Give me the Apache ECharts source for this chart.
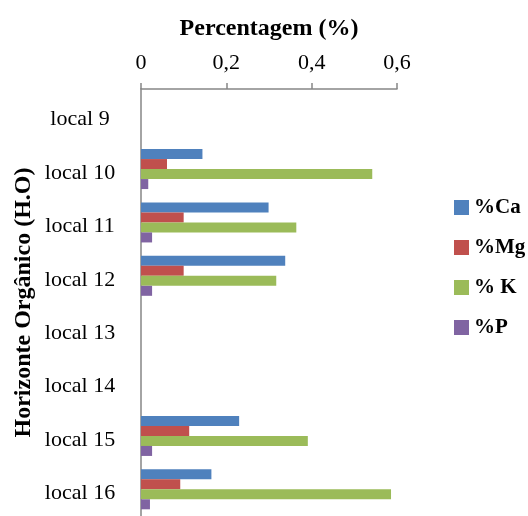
<!DOCTYPE html>
<html><head><meta charset="utf-8">
<script src="https://cdn.jsdelivr.net/npm/echarts@6/dist/echarts.min.js"></script>
<style>html,body{margin:0;padding:0;background:#fff}#c{width:528px;height:516px}</style>
</head><body><div id="c"></div>
<script>
var categories = ['local 9','local 10','local 11','local 12','local 13','local 14','local 15','local 16'];
var seriesNames = ['%Ca','%Mg','% K','%P'];
var ca = [0, 0.144, 0.299, 0.338, 0, 0, 0.230, 0.165];
var mg = [0, 0.061, 0.100, 0.100, 0, 0, 0.113, 0.092];
var k  = [0, 0.542, 0.364, 0.317, 0, 0, 0.391, 0.586];
var p  = [0, 0.017, 0.026, 0.026, 0, 0, 0.026, 0.021];
var colors = ['#4F81BD','#C0504D','#9BBB59','#8064A2'];
var values = [ca, mg, k, p];
var font = 'Liberation Serif';
var chart = echarts.init(document.getElementById('c'));
chart.setOption({
  animation: false,
  color: colors,
  legend: {
    orient: 'vertical', left: 449, top: 192, itemWidth: 15, itemHeight: 15, itemGap: 19,
    icon: 'rect',
    textStyle: {fontFamily: font, fontSize: 21, fontWeight: 'bold', color: '#000'},
    data: seriesNames
  },
  grid: {left: 141, top: 89, width: 256, height: 432, containLabel: false},
  xAxis: {
    type: 'value', position: 'top', min: 0, max: 0.6, interval: 0.2,
    name: 'Percentagem (%)', nameLocation: 'middle', nameGap: 48,
    nameTextStyle: {fontFamily: font, fontSize: 24, fontWeight: 'bold', color: '#000'},
    axisLine: {show: true, lineStyle: {color: '#868686', width: 1.5}},
    axisTick: {show: true, length: 6, lineStyle: {color: '#868686', width: 1.5}},
    splitLine: {show: false},
    axisLabel: {fontFamily: font, fontSize: 22, color: '#000', margin: 15,
      formatter: function(v){ return v === 0 ? '0' : v.toFixed(1).replace('.', ','); }}
  },
  yAxis: {
    type: 'category', inverse: true, data: categories,
    name: 'Horizonte Orgânico (H.O)', nameLocation: 'middle', nameGap: 105,
    nameTextStyle: {fontFamily: font, fontSize: 24, fontWeight: 'bold', color: '#000'},
    axisLine: {show: true, lineStyle: {color: '#868686', width: 1.5}},
    axisTick: {show: false},
    axisLabel: {fontFamily: font, fontSize: 22, color: '#000', margin: 61, align: 'center',
      formatter: function(v){ return '{a|' + v + '}'; },
      rich: {a: {fontFamily: font, fontSize: 22, color: '#000', padding: [8,0,0,0]}}}
  },
  series: seriesNames.map(function(n, i){
    return {name: n, type: 'bar', data: values[i], barWidth: 10, barGap: '0%',
      itemStyle: {color: colors[i]}};
  })
});
</script></body></html>
